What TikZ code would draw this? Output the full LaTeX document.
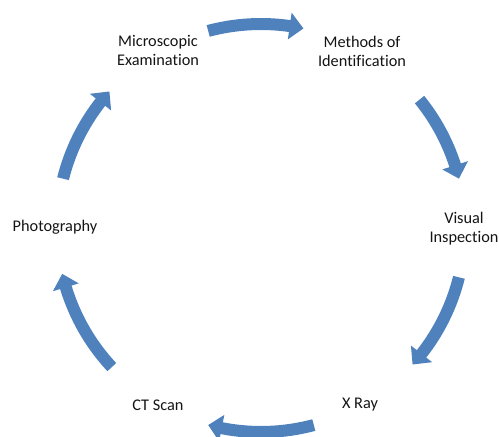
\documentclass[tikz,border=0pt]{standalone}
\usepackage{fontspec}
\setmainfont[Ligatures={NoCommon}]{Carlito}
\definecolor{arrowblue}{RGB}{79,129,189}
\definecolor{labelgray}{RGB}{20,20,20}
\tikzset{
  arrowfill/.style={fill=arrowblue, draw=none},
  label/.style={font=\fontsize{16.3}{19}\selectfont, text=labelgray, align=center, inner sep=0pt}
}
\def\R{204}
\def\Ro{210}
\def\Ri{198}
\def\Rh{217.5}
\def\Rhi{190.5}
\newcommand{\cycarr}[2]{%
  \pgfmathsetmacro{\ah}{#2+3.9}%
  \fill[arrowfill] (#1:\Ro pt) arc[start angle=#1,end angle=\ah,radius=\Ro pt]
    -- (\ah:\Rh pt) -- (#2:\R pt) -- (\ah:\Rhi pt) -- (\ah:\Ri pt)
    arc[start angle=\ah,end angle=#1,radius=\Ri pt] -- cycle;}
\begin{document}
\begin{tikzpicture}[x=1pt,y=1pt]
\useasboundingbox (0,0) rectangle (499,437);
\coordinate (c) at (261,209);
\node[label] (n1) at (158,386.5) {Microscopic\\Examination};
\node[label] (n2) at (362,385.5) {Methods of\\Identification};
\node[label] (n3) at (464,208) {Visual\\Inspection};
\node[label] (n4) at (360,32) {X Ray};
\node[label] (n5) at (158,32) {CT Scan};
\node[label] (n6) at (55,210) {Photography};
\begin{scope}[shift={(c)}]
  \cycarr{105}{78}
  \cycarr{39}{14}
  \cycarr{-14}{-42}
  \cycarr{-75}{-105}
  \cycarr{-137}{-167}
  \cycarr{166}{138}
\end{scope}
\end{tikzpicture}
\end{document}
